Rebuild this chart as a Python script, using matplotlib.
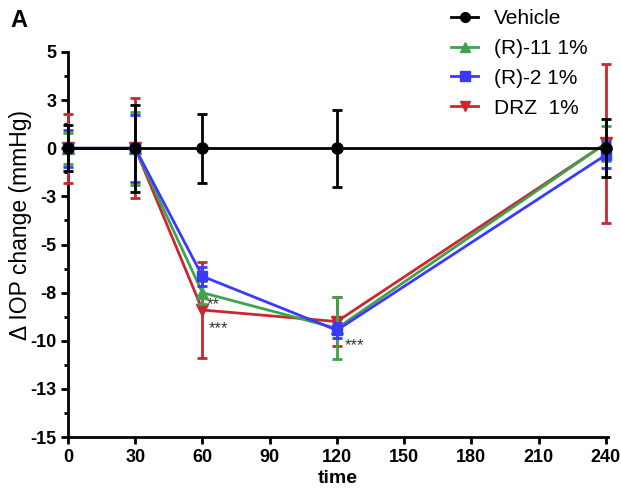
import matplotlib.pyplot as plt
import numpy as np
from matplotlib.ticker import FixedLocator, FixedFormatter, MultipleLocator
from matplotlib.lines import Line2D

plt.rcParams['font.family'] = ['Liberation Sans', 'DejaVu Sans']

time = [0, 30, 60, 120, 240]

vehicle = [0, 0, 0, 0, 0]
vehicle_err = [1.2, 2.25, 1.8, 2.0, 1.5]
r11 = [0, 0, -7.5, -9.35, 0.25]
r11_err = [0.8, 1.9, 0.6, 1.6, 0.9]
r2 = [0, 0, -6.65, -9.45, -0.35]
r2_err = [0.95, 1.75, 0.5, 0.4, 0.7]
drz = [0, 0, -8.4, -9.0, 0.25]
drz_err = [1.8, 2.6, 2.5, 1.25, 4.15]

ytick_pos = [5, 2.5, 0, -2.5, -5, -7.5, -10, -12.5, -15]
ytick_lab = ['5', '3', '0', '-3', '-5', '-8', '-10', '-13', '-15']
xticks = [0, 30, 60, 90, 120, 150, 180, 210, 240]

green = '#3fa34d'
blue = '#3a3aff'
red = '#c8282e'

fig = plt.figure(figsize=(6.21, 4.95), dpi=100)
ax = fig.add_axes([0.1095, 0.117, 0.8695, 0.778])

common = dict(linewidth=2, elinewidth=2, capsize=3.5, capthick=2, clip_on=False)
ax.errorbar(time, drz, yerr=drz_err, color=red, marker='v', markersize=8, zorder=3, **common)
ax.errorbar(time, r11, yerr=r11_err, color=green, marker='^', markersize=8, zorder=4, **common)
ax.errorbar(time, r2, yerr=r2_err, color=blue, marker='s', markersize=7.5, zorder=5, **common)
ax.errorbar(time, vehicle, yerr=vehicle_err, color='black', marker='o', markersize=8, zorder=6, **common)

ax.text(62, -8.35, '**', fontsize=12, color='#333333')
ax.text(63, -9.6, '***', fontsize=12, color='#333333')
ax.text(123.5, -10.5, '***', fontsize=12, color='#333333')

ax.set_xlim(0, 241)
ax.set_ylim(-15, 5)
ax.set_xticks(xticks)
ax.yaxis.set_major_locator(FixedLocator(ytick_pos))
ax.yaxis.set_major_formatter(FixedFormatter(ytick_lab))
ax.yaxis.set_minor_locator(MultipleLocator(1.25))
for s in ['top', 'right']:
    ax.spines[s].set_visible(False)
for s in ['left', 'bottom']:
    ax.spines[s].set_linewidth(2)
ax.tick_params(which='major', width=2, length=5, labelsize=13)
ax.tick_params(which='minor', width=2, length=3)
for lab in ax.get_xticklabels() + ax.get_yticklabels():
    lab.set_fontweight('bold')

ax.set_xlabel('time', fontsize=14, fontweight='bold', labelpad=3)
ax.set_ylabel('Δ IOP change (mmHg)', fontsize=16.5)
ax.yaxis.set_label_coords(-0.067, 0.55)

handles = [
    Line2D([], [], color='black', marker='o', markersize=7, linewidth=2),
    Line2D([], [], color=green, marker='^', markersize=7, linewidth=2),
    Line2D([], [], color=blue, marker='s', markersize=6.5, linewidth=2),
    Line2D([], [], color=red, marker='v', markersize=7, linewidth=2),
]
labels = ['Vehicle', '(R)-11 1%', '(R)-2 1%', 'DRZ  1%']
ax.legend(handles, labels, loc='upper left',
          bbox_to_anchor=(0.675, 1.16), frameon=False, fontsize=15,
          handlelength=1.3, labelspacing=0.52, handletextpad=0.75)

fig.text(0.016, 0.945, 'A', fontsize=17, fontweight='bold')

fig.savefig('out.png', dpi=100)
